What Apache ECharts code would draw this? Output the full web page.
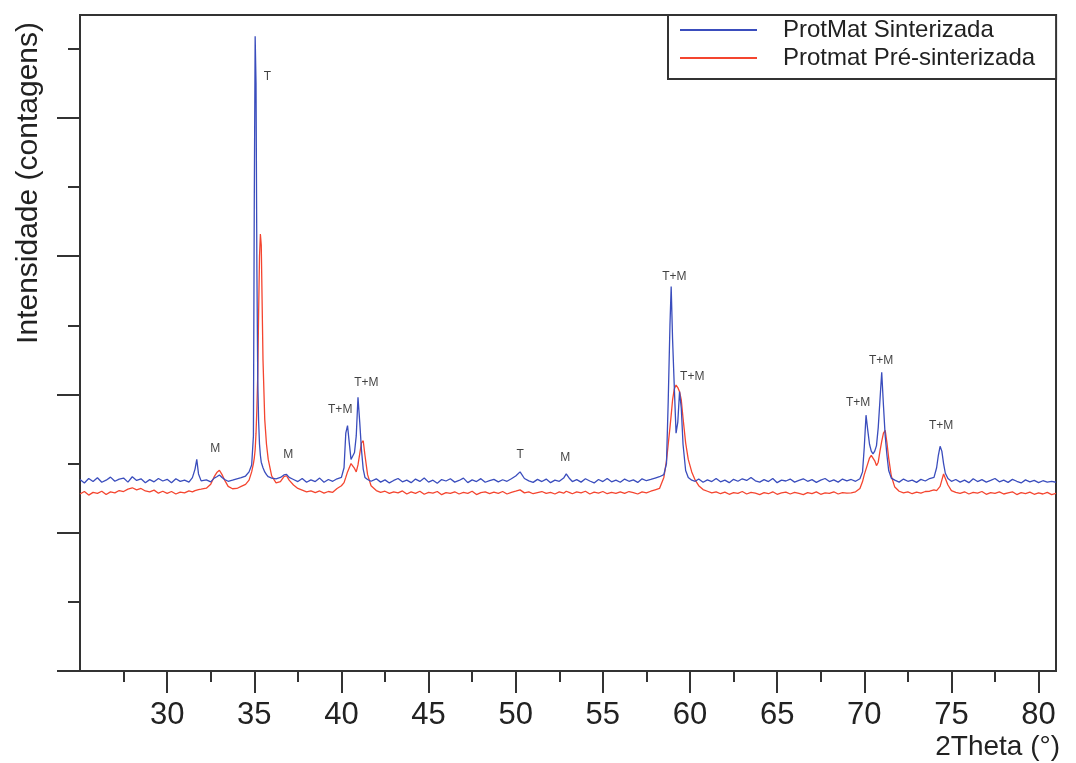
<!DOCTYPE html>
<html>
<head>
<meta charset="utf-8">
<script src="https://cdn.jsdelivr.net/npm/echarts@6/dist/echarts.min.js"></script>
<style>html,body{margin:0;padding:0;background:#fff}#main{width:1076px;height:763px}</style>
</head>
<body>
<div id="main"></div>
<script>
// 2Theta (graus)
var twoTheta = [
  25, 25.25, 25.5, 25.75, 26, 26.25, 26.5, 26.75, 27, 27.25,
  27.5, 27.75, 28, 28.25, 28.5, 28.75, 29, 29.25, 29.5, 29.75,
  30, 30.25, 30.5, 30.75, 31, 31.25, 31.45, 31.6, 31.7, 31.8,
  31.95, 32.25, 32.5, 32.7, 32.85, 33, 33.15, 33.3, 33.5, 33.75,
  34, 34.25, 34.5, 34.7, 34.85, 34.95, 35, 35.05, 35.1, 35.15,
  35.2, 35.25, 35.3, 35.35, 35.4, 35.5, 35.6, 35.7, 35.8, 36,
  36.25, 36.5, 36.7, 36.85, 37, 37.25, 37.5, 37.75, 38, 38.25,
  38.5, 38.75, 39, 39.25, 39.5, 39.75, 40, 40.15, 40.25, 40.35,
  40.45, 40.55, 40.65, 40.75, 40.85, 40.95, 41.05, 41.15, 41.25, 41.35,
  41.5, 41.7, 42, 42.25, 42.5, 42.75, 43, 43.25, 43.5, 43.75,
  44, 44.25, 44.5, 44.75, 45, 45.25, 45.5, 45.75, 46, 46.25,
  46.5, 46.75, 47, 47.25, 47.5, 47.75, 48, 48.25, 48.5, 48.75,
  49, 49.25, 49.5, 49.75, 50, 50.25, 50.5, 50.75, 51, 51.25,
  51.5, 51.75, 52, 52.25, 52.5, 52.75, 52.9, 53.1, 53.25, 53.5,
  53.75, 54, 54.25, 54.5, 54.75, 55, 55.25, 55.5, 55.75, 56,
  56.25, 56.5, 56.75, 57, 57.25, 57.5, 57.75, 58, 58.25, 58.5,
  58.65, 58.75, 58.85, 58.92, 59, 59.1, 59.2, 59.3, 59.4, 59.5,
  59.6, 59.75, 59.9, 60.1, 60.3, 60.5, 60.75, 61, 61.25, 61.5,
  61.75, 62, 62.25, 62.5, 62.75, 63, 63.25, 63.5, 63.75, 64,
  64.25, 64.5, 64.75, 65, 65.25, 65.5, 65.75, 66, 66.25, 66.5,
  66.75, 67, 67.25, 67.5, 67.75, 68, 68.25, 68.5, 68.75, 69,
  69.25, 69.5, 69.75, 69.9, 70, 70.1, 70.2, 70.3, 70.4, 70.5,
  70.6, 70.7, 70.8, 70.9, 71, 71.1, 71.2, 71.3, 71.4, 71.55,
  71.75, 72, 72.25, 72.5, 72.75, 73, 73.25, 73.5, 73.75, 74,
  74.15, 74.25, 74.35, 74.45, 74.55, 74.65, 74.8, 75, 75.25, 75.5,
  75.75, 76, 76.25, 76.5, 76.75, 77, 77.25, 77.5, 77.75, 78,
  78.25, 78.5, 78.75, 79, 79.25, 79.5, 79.75, 80, 80.25, 80.5,
  80.75, 81
];

// ProtMat Sinterizada (contagens)
var sinterizada = [
  1385, 1360, 1392, 1370, 1398, 1365, 1380, 1402, 1372, 1388,
  1395, 1366, 1405, 1378, 1390, 1362, 1384, 1368, 1392, 1374,
  1386, 1362, 1390, 1371, 1380, 1366, 1398, 1460, 1530, 1425,
  1375, 1382, 1368, 1395, 1405, 1418, 1400, 1385, 1372, 1380,
  1390, 1398, 1410, 1440, 1490, 1700, 3400, 4590, 4250, 2900,
  2100, 1800, 1640, 1560, 1510, 1470, 1440, 1420, 1405, 1395,
  1390, 1400, 1418, 1422, 1400, 1385, 1370, 1392, 1365, 1382,
  1370, 1395, 1365, 1385, 1372, 1390, 1400, 1470, 1720, 1775,
  1650, 1530, 1520, 1580, 1700, 1980, 1800, 1600, 1460, 1400,
  1385, 1372, 1390, 1366, 1382, 1360, 1378, 1392, 1368, 1380,
  1362, 1388, 1371, 1395, 1366, 1380, 1358, 1384, 1374, 1390,
  1366, 1378, 1395, 1362, 1382, 1370, 1391, 1365, 1376, 1386,
  1368, 1383, 1372, 1390, 1410, 1440, 1392, 1375, 1364, 1386,
  1370, 1388, 1362, 1380, 1372, 1395, 1425, 1390, 1370, 1384,
  1366, 1390, 1374, 1360, 1385, 1370, 1392, 1368, 1380, 1365,
  1388, 1372, 1382, 1364, 1390, 1376, 1385, 1395, 1405, 1420,
  1500, 1950, 2500, 2780, 2400, 2050, 1720, 1800, 2020, 1900,
  1640, 1450, 1400, 1380, 1372, 1388, 1365, 1382, 1370, 1392,
  1368, 1380, 1362, 1386, 1372, 1390, 1378, 1400, 1375, 1366,
  1384, 1370, 1392, 1362, 1380, 1374, 1388, 1366, 1378, 1390,
  1372, 1384, 1364, 1380, 1392, 1370, 1382, 1366, 1388, 1375,
  1385, 1372, 1390, 1440, 1620, 1850, 1740, 1640, 1590, 1570,
  1590, 1630, 1760, 1960, 2160, 1920, 1700, 1560, 1450, 1395,
  1380, 1366, 1388, 1372, 1380, 1364, 1386, 1374, 1392, 1400,
  1470, 1560, 1625, 1590, 1500, 1430, 1392, 1372, 1385, 1366,
  1380, 1362, 1390, 1370, 1384, 1366, 1378, 1392, 1368, 1380,
  1364, 1386, 1372, 1360, 1382, 1368, 1378, 1362, 1376, 1366,
  1372, 1365
];

// Protmat Pré-sinterizada (contagens)
var preSinterizada = [
  1280, 1298, 1272, 1292, 1285, 1300, 1276, 1295, 1288, 1305,
  1298, 1315, 1325, 1310, 1320, 1302, 1295, 1308, 1286, 1300,
  1285, 1298, 1280, 1294, 1288, 1302, 1296, 1305, 1300, 1312,
  1315, 1322, 1350, 1405, 1435, 1452, 1420, 1380, 1335, 1318,
  1320, 1335, 1350, 1380, 1440, 1500, 1540, 1600, 1720, 1900,
  2150, 2600, 3000, 3160, 3080, 2250, 1820, 1640, 1530, 1410,
  1360, 1370, 1405, 1412, 1380, 1345, 1320, 1308, 1296, 1302,
  1290, 1302, 1286, 1298, 1292, 1320, 1340, 1362, 1400, 1440,
  1470, 1500, 1495, 1465, 1440, 1490, 1570, 1650, 1665, 1560,
  1420, 1340, 1305, 1292, 1300, 1284, 1296, 1288, 1302, 1280,
  1295, 1285, 1300, 1278, 1292, 1286, 1298, 1275, 1290, 1284,
  1296, 1280, 1292, 1285, 1300, 1276, 1290, 1295, 1282, 1294,
  1285, 1298, 1280, 1292, 1300, 1310, 1288, 1296, 1282, 1290,
  1298, 1284, 1292, 1280, 1295, 1286, 1300, 1290, 1282, 1296,
  1288, 1300, 1280, 1294, 1286, 1298, 1282, 1292, 1285, 1296,
  1284, 1298, 1290, 1280, 1295, 1288, 1300, 1310, 1320, 1400,
  1520, 1640, 1760, 1850, 1960, 2040, 2068, 2050, 2020, 1960,
  1830, 1650, 1530, 1440, 1380, 1340, 1312, 1300, 1288, 1296,
  1282, 1294, 1278, 1290, 1285, 1298, 1280, 1292, 1286, 1276,
  1290, 1282, 1296, 1278, 1288, 1294, 1280, 1292, 1284, 1276,
  1290, 1282, 1295, 1278, 1288, 1284, 1296, 1280, 1290, 1286,
  1288, 1296, 1320, 1370, 1420, 1460, 1500, 1540, 1560, 1560,
  1520, 1485, 1510, 1590, 1660, 1720, 1740, 1650, 1540, 1410,
  1330, 1300, 1288, 1296, 1282, 1294, 1286, 1298, 1300, 1310,
  1305, 1318, 1335, 1380, 1425, 1420, 1345, 1305, 1292, 1284,
  1296, 1280, 1292, 1286, 1298, 1278, 1290, 1284, 1295, 1280,
  1288, 1296, 1276, 1290, 1282, 1294, 1278, 1288, 1280, 1292,
  1276, 1285
];

var ticksX = [30, 35, 40, 45, 50, 55, 60, 65, 70, 75, 80];
var ticksXMenor = [27.5, 32.5, 37.5, 42.5, 47.5, 52.5, 57.5, 62.5, 67.5, 72.5, 77.5];
var ticksY = [0, 1000, 2000, 3000, 4000];
var ticksYMenor = [500, 1500, 2500, 3500, 4500];

// identificação das fases
var fases = ['T', 'M', 'M', 'T+M', 'T+M', 'T', 'M', 'T+M', 'T+M', 'T+M', 'T+M', 'T+M'];
var fasesX = [35.75, 32.76, 36.95, 39.93, 41.43, 50.26, 52.84, 59.1, 60.13, 69.65, 70.97, 74.41];
var fasesY = [4295, 1605, 1562, 1887, 2082, 1562, 1540, 2849, 2126, 1938, 2241, 1771];

var fonte = '"Liberation Sans", Arial, sans-serif';
var azul = '#3a4dbd';
var vermelho = '#f4452f';

function pares(xs, ys) {
  return xs.map(function (x, i) { return [x, ys[i]]; });
}

var myChart = echarts.init(document.getElementById('main'));

var option = {
  animation: false,
  backgroundColor: '#fff',
  textStyle: { fontFamily: fonte },
  grid: {
    left: 80, top: 15, right: 20, bottom: 92,
    show: true, borderColor: '#333', borderWidth: 2,
    containLabel: false, outerBoundsMode: 'none'
  },
  legend: {
    data: ['ProtMat Sinterizada', 'Protmat Pré-sinterizada'],
    orient: 'vertical',
    left: 668, top: 15,
    icon: 'rect',
    itemWidth: 77, itemHeight: 2, itemGap: 4,
    padding: [3, 21, 9, 12],
    borderColor: '#333', borderWidth: 2, borderRadius: 0,
    backgroundColor: '#fff',
    selectedMode: false,
    textStyle: { fontSize: 24, color: '#222', fontFamily: fonte, padding: [0, 0, 0, 21] }
  },
  xAxis: [
    {
      type: 'value', min: 25, max: 81, position: 'bottom',
      name: '2Theta (°)', nameLocation: 'end', nameGap: 4,
      nameTextStyle: { fontSize: 28, color: '#222', align: 'right', verticalAlign: 'top', padding: [62, 0, 0, 0] },
      axisLine: { lineStyle: { color: '#333', width: 2 } },
      axisTick: { customValues: ticksX, length: 22, lineStyle: { color: '#333', width: 2 } },
      axisLabel: { customValues: ticksX, fontSize: 31, color: '#222', margin: 29 },
      splitLine: { show: false }
    },
    {
      type: 'value', min: 25, max: 81, position: 'bottom',
      axisLine: { show: false },
      axisTick: { customValues: ticksXMenor, length: 11, lineStyle: { color: '#333', width: 2 } },
      axisLabel: { show: false },
      splitLine: { show: false }
    }
  ],
  yAxis: [
    {
      type: 'value', min: 0, max: 4744, position: 'left',
      name: 'Intensidade (contagens)', nameLocation: 'end', nameRotate: 90, nameGap: -7,
      nameTextStyle: { fontSize: 30, color: '#222', align: 'right', verticalAlign: 'bottom', padding: [0, 0, 36, 0] },
      axisLine: { lineStyle: { color: '#333', width: 2 } },
      axisTick: { customValues: ticksY, length: 23, lineStyle: { color: '#333', width: 2 } },
      axisLabel: { show: false },
      splitLine: { show: false }
    },
    {
      type: 'value', min: 0, max: 4744, position: 'left',
      axisLine: { show: false },
      axisTick: { customValues: ticksYMenor, length: 12, lineStyle: { color: '#333', width: 2 } },
      axisLabel: { show: false },
      splitLine: { show: false }
    }
  ],
  series: [
    {
      name: 'Protmat Pré-sinterizada',
      type: 'line',
      data: pares(twoTheta, preSinterizada),
      showSymbol: false,
      color: vermelho,
      lineStyle: { width: 1.3, color: vermelho }
    },
    {
      name: 'ProtMat Sinterizada',
      type: 'line',
      data: pares(twoTheta, sinterizada),
      showSymbol: false,
      color: azul,
      lineStyle: { width: 1.3, color: azul }
    },
    {
      type: 'scatter',
      symbolSize: 0,
      silent: true,
      data: fases.map(function (f, i) { return { name: f, value: [fasesX[i], fasesY[i]] }; }),
      label: { show: true, position: 'inside', formatter: '{b}', fontSize: 12, color: '#111' }
    }
  ]
};

myChart.setOption(option);
</script>
</body>
</html>
